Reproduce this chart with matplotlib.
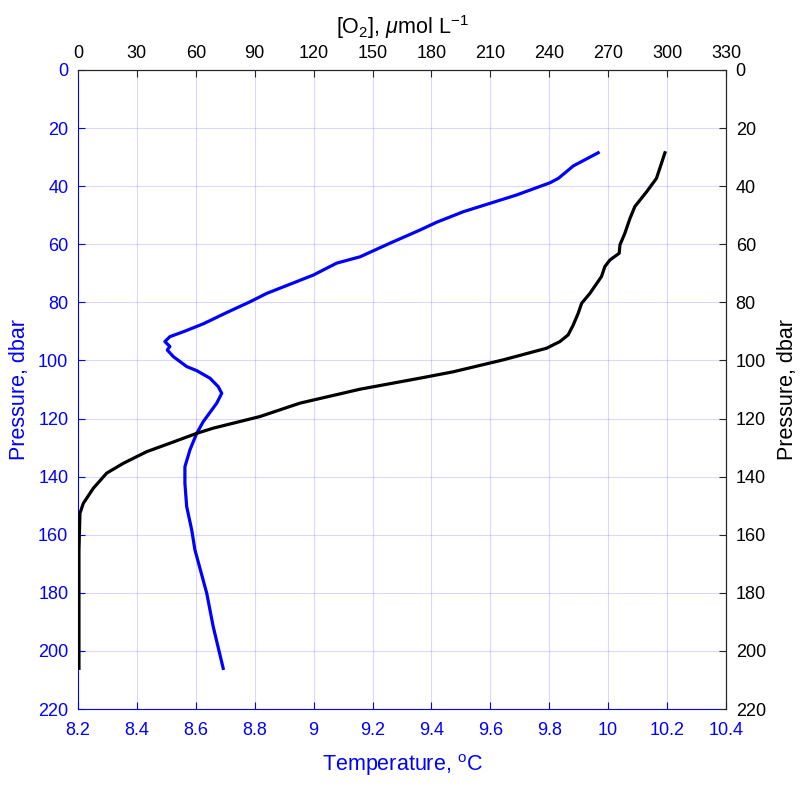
"""Temperature and oxygen profile against pressure."""

import matplotlib

matplotlib.use("Agg")
import matplotlib.pyplot as plt

# temperature profile (bottom axis), degC vs dbar
temp_p = [28.5, 33.0, 37.3, 38.8, 43.0, 45.9, 48.8, 52.4, 55.1, 59.5, 64.3, 66.5, 70.6,
          76.9, 79.8, 83.5, 87.4, 90.1, 91.8, 93.5, 95.2, 96.4, 98.7, 102.1, 103.5,
          106.1, 109.0, 111.3, 114.7, 121.1, 125.1, 130.8, 136.6, 142.3, 150.3,
          158.3, 165.2, 180.1, 191.6, 206.0]
temp_c = [9.966, 9.882, 9.831, 9.803, 9.690, 9.599, 9.508, 9.418, 9.361, 9.262, 9.158,
          9.078, 8.999, 8.841, 8.784, 8.705, 8.625, 8.558, 8.512, 8.495, 8.512,
          8.503, 8.524, 8.569, 8.603, 8.648, 8.676, 8.688, 8.671, 8.625, 8.603,
          8.580, 8.563, 8.563, 8.569, 8.586, 8.597, 8.637, 8.659, 8.693]

# oxygen profile (top axis), umol/L vs dbar
o2_p = [28.5, 37.3, 41.9, 47.0, 51.1, 56.2, 60.2, 63.1, 65.4, 67.7, 71.1, 76.9,
        80.3, 83.8, 87.8, 91.2, 93.5, 95.8, 99.8, 103.9, 106.1, 109.9, 114.7,
        119.3, 123.3, 125.1, 128.5, 131.4, 135.4, 138.8, 144.0, 149.2, 152.6,
        165.2, 206.0]
o2_c = [298.9, 294.6, 289.6, 283.6, 281.1, 278.5, 276.0, 275.6, 270.9, 268.3,
        266.6, 260.7, 256.5, 254.7, 252.2, 249.6, 245.4, 238.6, 216.5, 191.1,
        174.1, 143.6, 113.0, 92.7, 68.9, 60.4, 46.8, 35.0, 23.1, 14.6, 7.8, 2.7,
        1.0, 0.5, 0.5]

temp_ticks = [8.2, 8.4, 8.6, 8.8, 9, 9.2, 9.4, 9.6, 9.8, 10, 10.2, 10.4]
temp_labels = ["8.2", "8.4", "8.6", "8.8", "9", "9.2", "9.4", "9.6", "9.8", "10", "10.2", "10.4"]
o2_ticks = list(range(0, 331, 30))
p_ticks = list(range(0, 221, 20))

BLUE = (0, 0, 1)
DARK = (0.15, 0.15, 0.15)

plt.rcParams["font.family"] = ["Liberation Sans", "DejaVu Sans"]
plt.rcParams["mathtext.fontset"] = "custom"
plt.rcParams["mathtext.rm"] = "Liberation Sans"
plt.rcParams["mathtext.it"] = "Liberation Sans:italic"
plt.rcParams["font.size"] = 13

fig = plt.figure(figsize=(8.09, 7.90), dpi=100)
ax = fig.add_axes([0.0964, 0.1025, 0.8010, 0.8089])

ax.plot(temp_c, temp_p, color=BLUE, lw=2.3, zorder=3)
ax.set_xlim(8.2, 10.4)
ax.set_ylim(220, 0)
ax.set_xticks(temp_ticks)
ax.set_xticklabels(temp_labels)
ax.set_yticks(p_ticks)
ax.grid(True, color=BLUE, alpha=0.15, lw=0.8)
ax.tick_params(axis="x", direction="in", length=5, colors=BLUE, labelcolor=BLUE, pad=9,
               top=False)
ax.tick_params(axis="y", direction="in", length=5, colors=BLUE, labelcolor=BLUE, pad=7,
               right=False)
ax.set_xlabel("Temperature, $^{\\rm o}$C", color=BLUE, fontsize=15.5, labelpad=10)
ax.set_ylabel("Pressure, dbar", color=BLUE, fontsize=15.5, labelpad=6)
ax.spines["left"].set_color(BLUE)
ax.spines["bottom"].set_color(BLUE)
ax.spines["top"].set_visible(False)
ax.spines["right"].set_visible(False)

# right pressure axis
axr = ax.twinx()
axr.set_ylim(220, 0)
axr.set_yticks(p_ticks)
axr.tick_params(direction="in", length=5, colors=DARK, labelcolor="black", pad=7)
axr.set_ylabel("Pressure, dbar", color="black", fontsize=15.5, labelpad=8)

# top oxygen axis
ax2 = ax.twiny()
ax2.plot(o2_c, o2_p, color="black", lw=2.3, zorder=4)
ax2.set_xlim(0, 330)
ax2.set_xticks(o2_ticks)
ax2.tick_params(direction="in", length=5, colors=DARK, labelcolor="black", pad=6)
ax2.set_xlabel("[O$_2$], $\\mu$mol L$^{-1}$", color="black", fontsize=15.5, labelpad=8)

for a in (axr, ax2):
    a.spines["left"].set_visible(False)
    a.spines["bottom"].set_visible(False)
    a.spines["top"].set_color(DARK)
    a.spines["right"].set_color(DARK)

fig.savefig("out.png", dpi=100)
plt.close(fig)
